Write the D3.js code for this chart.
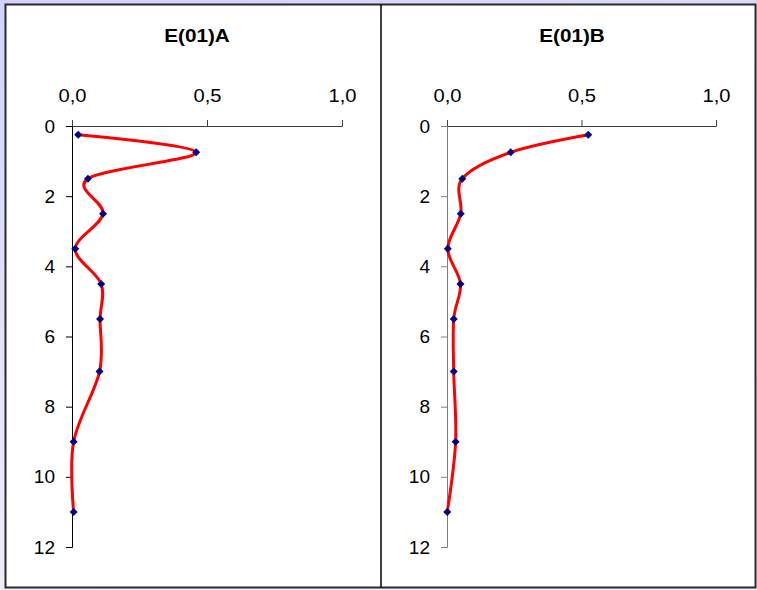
<!DOCTYPE html>
<html>
<head>
<meta charset="utf-8">
<script src="https://cdn.jsdelivr.net/npm/d3@7"></script>
<style>
  html, body { margin: 0; padding: 0; background: #fff; }
  svg { display: block; font-family: "Liberation Sans", Arial, sans-serif; }
</style>
</head>
<body>
<svg id="chart" width="757" height="590"></svg>
<script>
// Sampling depths (shared by both profiles)
const depths = [0.25, 0.75, 1.5, 2.5, 3.5, 4.5, 5.5, 7, 9, 11];
// Profile values
const valuesA = [0.023, 0.46, 0.059, 0.115, 0.012, 0.108, 0.104, 0.102, 0.006, 0.006];
const valuesB = [0.525, 0.237, 0.057, 0.051, 0.003, 0.050, 0.025, 0.025, 0.032, 0.001];
// Panel titles
const titles = ["E(01)A", "E(01)B"];
// Axis ticks
const xTicks = [0, 0.5, 1.0];
const yTicks = [0, 2, 4, 6, 8, 10, 12];

const svg = d3.select("#chart");

// Background with soft lavender frame
const defs = svg.append("defs");
const grad = defs.append("linearGradient").attr("id", "bg")
  .attr("x1", "0").attr("y1", "0").attr("x2", "0.3").attr("y2", "1");
grad.append("stop").attr("offset", "0").attr("stop-color", "#d2d2fc");
grad.append("stop").attr("offset", "1").attr("stop-color", "#f0f0f8");
svg.append("rect").attr("width", 757).attr("height", 590).attr("fill", "url(#bg)");

// Chart area
svg.append("rect").attr("x", 5.5).attr("y", 4.5).attr("width", 750).attr("height", 583)
  .attr("fill", "#fff").attr("stroke", "#2a2a2a").attr("stroke-width", 2);
svg.append("line").attr("x1", 381).attr("x2", 381).attr("y1", 4.5).attr("y2", 587.5)
  .attr("stroke", "#000").attr("stroke-width", 1.5);

const locale = d3.formatLocale({ decimal: ",", thousands: ".", grouping: [3], currency: ["", ""] });
const fmtX = locale.format(".1f");

const y = d3.scaleLinear().domain([0, 12]).range([126, 547]);

const panels = [
  { title: titles[0], values: valuesA, range: [72, 342], titleX: 197, yAxisColor: "#000" },
  { title: titles[1], values: valuesB, range: [447, 716], titleX: 572, yAxisColor: "#808080" }
];

const diamond = "M0,-4L4,0L0,4L-4,0Z";

panels.forEach(p => {
  const x = d3.scaleLinear().domain([0, 1]).range(p.range);
  const g = svg.append("g");

  g.append("text")
    .attr("transform", `translate(${p.titleX},42) scale(1.15,1)`)
    .attr("text-anchor", "middle")
    .attr("font-size", 18).attr("font-weight", "bold")
    .text(p.title);

  // Value axis along the top
  const xa = g.append("g").attr("transform", `translate(0,${y(0)})`)
    .call(d3.axisTop(x).tickValues(xTicks).tickFormat(fmtX).tickSize(6).tickPadding(18));
  xa.select(".domain").attr("stroke", "#404040");
  xa.selectAll(".tick line").attr("stroke", "#404040");
  xa.selectAll(".tick text")
    .attr("font-size", 18).attr("fill", "#000").attr("font-family", null)
    .attr("transform", "scale(1.12,1)");

  // Depth axis
  const ya = g.append("g").attr("transform", `translate(${x(0)},0)`)
    .call(d3.axisLeft(y).tickValues(yTicks).tickFormat(d3.format("d")).tickSize(6).tickPadding(11));
  ya.select(".domain").attr("stroke", p.yAxisColor);
  ya.selectAll(".tick line").attr("stroke", p.yAxisColor);
  ya.selectAll(".tick text")
    .attr("font-size", 19).attr("fill", "#000").attr("font-family", null);

  const pts = depths.map((d, i) => ({ depth: d, value: p.values[i] }));

  const line = d3.line()
    .x(d => x(d.value))
    .y(d => y(d.depth))
    .curve(d3.curveCardinal.tension(0));

  g.append("path").datum(pts)
    .attr("d", line)
    .attr("fill", "none")
    .attr("stroke", "#ff0000")
    .attr("stroke-width", 3)
    .attr("stroke-linejoin", "round");

  g.selectAll("path.marker").data(pts).join("path")
    .attr("class", "marker")
    .attr("d", diamond)
    .attr("transform", d => `translate(${x(d.value)},${y(d.depth)})`)
    .attr("fill", "#000080");
});
</script>
</body>
</html>
